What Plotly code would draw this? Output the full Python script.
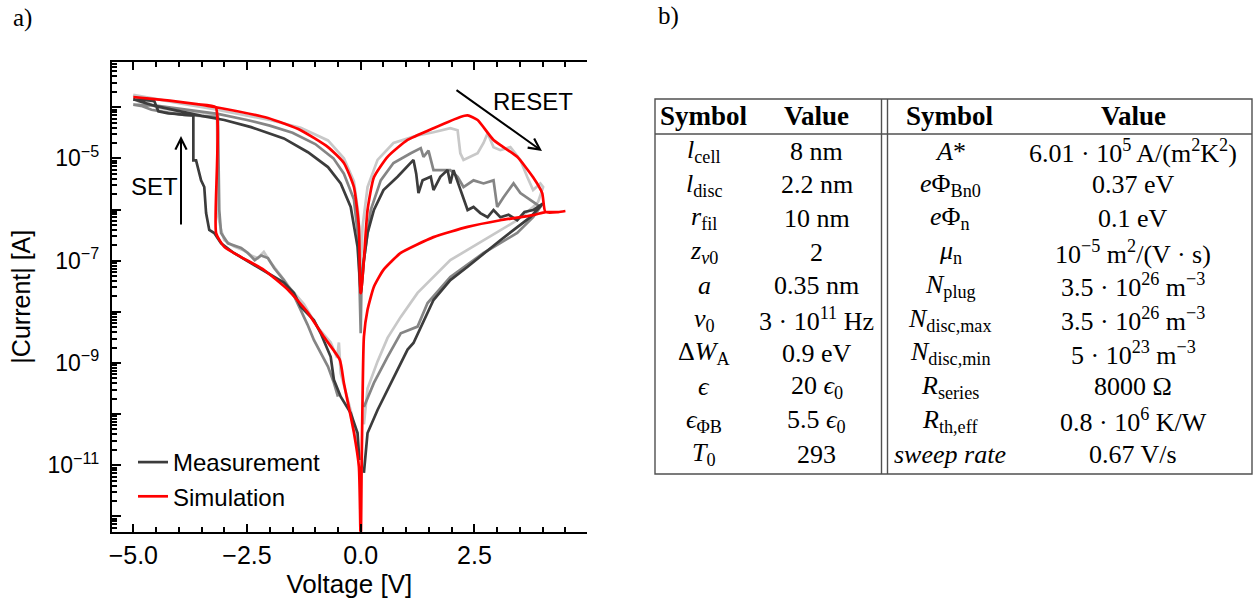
import numpy as np
import plotly.graph_objects as go

W, H = 1257, 601

# ---- a) I-V data: (voltage [V], log10 |current| [A]) in sweep order ----
sim_points = [
    (0.0, -12.6), (-0.04, -11.03), (-0.15, -10.36), (-0.37, -9.39), (-0.46, -8.94), (-0.81, -8.49),
    (-1.16, -8.02), (-1.60, -7.57), (-2.13, -7.18), (-2.63, -6.93), (-3.00, -6.73), (-3.18, -6.46),
    (-3.19, -4.00), (-3.60, -3.94), (-4.20, -3.87), (-5.00, -3.80),
    (-4.20, -3.87), (-3.60, -3.94), (-3.18, -4.00), (-2.04, -4.21), (-1.32, -4.45), (-0.72, -4.78),
    (-0.37, -5.09), (-0.15, -5.56), (-0.04, -6.34), (-0.005, -7.63),
    (0.005, -7.63), (0.07, -6.99), (0.15, -6.01), (0.29, -5.37), (0.59, -4.97), (1.03, -4.64),
    (1.60, -4.41), (2.19, -4.19), (2.35, -4.16), (2.57, -4.25), (2.92, -4.64), (3.44, -4.97),
    (3.79, -5.37), (3.99, -5.68), (4.06, -6.05), (4.34, -6.05), (4.50, -6.03),
    (4.34, -6.05), (4.06, -6.05), (3.79, -6.11), (3.07, -6.21), (2.35, -6.34), (1.60, -6.54),
    (0.88, -6.85), (0.50, -7.18), (0.29, -7.51), (0.15, -7.96), (0.07, -8.49), (0.04, -9.72),
    (0.02, -11.03), (0.0, -12.6),
]

dark_points = [
    (-0.03, -10.9), (-0.07, -10.37), (-0.22, -9.98), (-0.44, -9.66), (-0.59, -9.33), (-0.66, -8.88),
    (-0.88, -8.42), (-1.03, -8.16), (-1.32, -7.90), (-1.47, -7.63), (-1.69, -7.43), (-2.04, -7.24),
    (-2.41, -7.05), (-2.79, -6.85), (-3.07, -6.66), (-3.22, -6.46), (-3.33, -6.40), (-3.40, -6.07),
    (-3.44, -5.56), (-3.51, -5.43), (-3.62, -5.04), (-3.68, -5.04), (-3.68, -4.16),
    (-3.75, -4.16), (-3.88, -4.15), (-4.05, -4.13), (-4.23, -4.12), (-4.45, -4.08), (-4.50, -3.95),
    (-4.54, -3.88), (-4.70, -3.86), (-4.85, -3.85), (-5.00, -3.85),
    (-4.50, -3.98), (-4.00, -4.08), (-3.50, -4.17), (-3.00, -4.25), (-2.41, -4.39), (-1.69, -4.61),
    (-1.16, -4.88), (-0.72, -5.17), (-0.44, -5.49), (-0.22, -5.95), (-0.07, -6.73), (0.0, -7.63),
    (0.02, -7.51), (0.07, -6.99), (0.15, -6.46), (0.29, -6.01), (0.50, -5.62), (0.81, -5.36),
    (1.10, -5.09), (1.16, -5.03), (1.22, -5.30), (1.27, -5.68), (1.36, -5.43), (1.54, -5.36),
    (1.60, -5.62), (1.75, -5.36), (1.91, -5.23), (1.97, -5.49), (2.04, -5.23), (2.19, -5.62),
    (2.35, -6.01), (2.48, -5.95), (2.63, -6.07), (2.79, -6.15), (2.92, -6.01), (3.07, -6.15),
    (3.25, -6.10), (3.44, -6.21), (3.60, -6.05), (3.79, -6.01), (4.01, -5.88),
    (3.73, -6.15), (3.44, -6.34), (3.07, -6.60), (2.35, -7.12), (1.97, -7.38), (1.60, -7.77),
    (1.32, -8.29), (1.16, -8.61), (1.03, -8.74), (0.66, -9.39), (0.37, -9.92), (0.15, -10.37),
    (0.07, -11.15),
]

mid_points = [
    (-0.50, -9.66), (-0.59, -9.39), (-0.72, -9.07), (-0.88, -8.80), (-1.03, -8.55), (-1.17, -8.25),
    (-1.32, -7.96), (-1.46, -7.70), (-1.69, -7.38), (-1.90, -7.15), (-2.04, -6.95), (-2.19, -6.90),
    (-2.33, -6.99), (-2.48, -6.85), (-2.63, -6.75), (-2.92, -6.66), (-3.07, -6.46), (-3.11, -6.01),
    (-3.14, -4.19),
    (-3.40, -4.18), (-3.70, -4.16), (-4.00, -4.14), (-4.30, -4.10), (-4.60, -4.05), (-4.80, -3.98),
    (-5.00, -3.95),
    (-4.50, -3.97), (-4.00, -4.03), (-3.14, -4.13), (-2.50, -4.25), (-2.00, -4.36), (-1.50, -4.50),
    (-1.00, -4.72), (-0.60, -5.00), (-0.37, -5.30), (-0.15, -5.80), (-0.05, -6.60), (0.0, -8.42),
    (0.02, -7.20), (0.07, -6.99), (0.22, -6.01), (0.44, -5.43), (0.72, -5.09), (1.10, -4.90),
    (1.32, -4.80), (1.38, -4.97), (1.49, -4.85), (1.60, -5.23), (1.97, -5.23), (2.13, -5.36),
    (2.26, -5.56), (2.48, -5.43), (2.70, -5.49), (2.92, -5.43), (3.00, -5.95), (3.14, -5.76),
    (3.36, -5.49), (3.51, -5.68), (3.73, -5.81), (3.95, -5.95),
    (3.79, -6.15), (3.44, -6.46), (2.70, -6.85), (1.97, -7.32), (1.47, -7.83), (1.25, -8.29),
    (0.88, -8.42), (0.59, -8.88), (0.29, -9.39), (0.07, -9.86),
]

light_points = [
    (-0.07, -10.7), (-0.20, -10.0), (-0.35, -9.5), (-0.44, -9.2), (-0.48, -8.6), (-0.52, -8.9),
    (-0.66, -8.6), (-0.95, -8.3), (-1.25, -7.85), (-1.54, -7.55), (-1.75, -7.30), (-1.97, -7.05),
    (-2.13, -6.83), (-2.26, -6.95), (-2.41, -6.90), (-2.57, -6.80), (-2.79, -6.72), (-3.00, -6.60),
    (-3.07, -6.40), (-3.14, -6.10), (-3.16, -4.15),
    (-3.50, -4.10), (-4.00, -4.08), (-4.50, -4.00), (-4.80, -3.85), (-5.00, -3.76),
    (-4.00, -3.92), (-3.16, -4.05), (-2.00, -4.25), (-1.32, -4.40), (-0.72, -4.65), (-0.37, -5.00),
    (-0.15, -5.45), (-0.05, -6.10), (0.0, -7.20),
    (0.04, -6.34), (0.15, -5.56), (0.37, -5.03), (0.72, -4.70), (1.25, -4.55), (1.60, -4.49),
    (1.97, -4.41), (2.13, -4.45), (2.19, -4.90), (2.26, -5.03), (2.41, -4.97), (2.57, -4.90),
    (2.70, -4.70), (2.79, -4.51), (2.92, -4.78), (3.07, -4.84), (3.29, -4.78), (3.51, -5.03),
    (3.66, -5.36), (3.79, -5.62), (3.95, -5.49), (4.01, -5.56),
    (3.90, -5.85), (3.79, -5.95), (3.44, -6.21), (2.70, -6.60), (1.97, -6.99), (1.25, -7.63),
    (0.88, -8.10), (0.59, -8.51), (0.37, -8.97), (0.15, -9.50), (0.07, -10.2),
]

x_tick_values = [-5.0, -2.5, 0.0, 2.5]
x_tick_labels = ["\u22125.0", "\u22122.5", "0.0", "2.5"]
y_decades = list(range(-12, -3))
y_labelled = [-11, -9, -7, -5]

# ---- b) parameter table ----
table_header = ["Symbol", "Value", "Symbol", "Value"]
left_symbols = [
    "<i>l</i><sub>cell</sub>", "<i>l</i><sub>disc</sub>", "<i>r</i><sub>fil</sub>",
    "<i>z</i><sub><i>\u03bd</i>0</sub>", "<i>a</i>", "<i>\u03bd</i><sub>0</sub>",
    "\u0394<i>W</i><sub>A</sub>", "<i>\u03f5</i>", "<i>\u03f5</i><sub>\u03a6B</sub>", "<i>T</i><sub>0</sub>",
]
left_values = [
    "8 nm", "2.2 nm", "10 nm", "2", "0.35 nm", "3 \u00b7 10<sup>11</sup> Hz", "0.9 eV",
    "20 <i>\u03f5</i><sub>0</sub>", "5.5 <i>\u03f5</i><sub>0</sub>", "293",
]
right_symbols = [
    "<i>A</i>*", "<i>e</i>\u03a6<sub>Bn0</sub>", "<i>e</i>\u03a6<sub>n</sub>", "<i>\u03bc</i><sub>n</sub>",
    "<i>N</i><sub>plug</sub>", "<i>N</i><sub>disc,max</sub>", "<i>N</i><sub>disc,min</sub>",
    "<i>R</i><sub>series</sub>", "<i>R</i><sub>th,eff</sub>", "<i>sweep rate</i>",
]
right_values = [
    "6.01 \u00b7 10<sup>5</sup> A/(m<sup>2</sup>K<sup>2</sup>)", "0.37 eV", "0.1 eV",
    "10<sup>\u22125</sup> m<sup>2</sup>/(V \u00b7 s)", "3.5 \u00b7 10<sup>26</sup> m<sup>\u22123</sup>",
    "3.5 \u00b7 10<sup>26</sup> m<sup>\u22123</sup>", "5 \u00b7 10<sup>23</sup> m<sup>\u22123</sup>",
    "8000 \u03a9", "0.8 \u00b7 10<sup>6</sup> K/W", "0.67 V/s",
]


def px(xp):
    return xp / W


def py(yp):
    return 1 - yp / H


SANS = "Liberation Sans, Arial, sans-serif"
SERIF = "Liberation Serif, Times New Roman, serif"

fig = go.Figure()

curves = [
    (light_points, "#c8c8c8", None),
    (mid_points, "#858585", None),
    (dark_points, "#3c3c3c", "Measurement"),
]
for pts, color, name in curves:
    v = [p[0] for p in pts]
    i = [10 ** p[1] for p in pts]
    fig.add_trace(go.Scatter(
        x=v, y=i, mode="lines", line=dict(color=color, width=2.7),
        name=name or "", showlegend=name is not None, hoverinfo="skip",
    ))

fig.add_trace(go.Scatter(
    x=[p[0] for p in sim_points], y=[10 ** p[1] for p in sim_points], mode="lines",
    line=dict(color="#ff0000", width=2.7, shape="spline", smoothing=0.5),
    name="Simulation", hoverinfo="skip",
))

x0_px, x1_px, y0_px, y1_px = 111.7, 587.0, 61.7, 531.7

fig.update_xaxes(
    domain=[px(x0_px), px(x1_px)], range=[-5.475, 4.975],
    tickmode="array", tickvals=x_tick_values, ticktext=x_tick_labels,
    ticks="inside", ticklen=8, tickwidth=2, tickcolor="black",
    showline=True, linecolor="black", linewidth=2, mirror="ticks",
    showgrid=False, zeroline=False,
    minor=dict(dtick=0.5, tick0=0, ticks="inside", ticklen=5, tickwidth=1.5, tickcolor="black", showgrid=False),
    tickfont=dict(family=SANS, size=25, color="black"),
    title=dict(text="Voltage [V]", font=dict(family=SANS, size=26, color="black"), standoff=0),
    automargin=False,
)
fig.update_yaxes(
    type="log", domain=[py(y1_px), py(y0_px)], range=[-12.30, -3.11],
    tickmode="array", tickvals=[10.0 ** d for d in y_decades],
    ticktext=[("10<sup>\u2212%d</sup>" % -d) if d in y_labelled else "" for d in y_decades],
    ticks="inside", ticklen=9, tickwidth=2, tickcolor="black",
    showline=True, linecolor="black", linewidth=2, mirror=False,
    showgrid=False, zeroline=False,
    minor=dict(dtick="D1", ticks="inside", ticklen=5, tickwidth=1.5, tickcolor="black", showgrid=False),
    tickfont=dict(family=SANS, size=23, color="black"), ticklabelstandoff=6,
    title=dict(text="|Current| [A]", font=dict(family=SANS, size=25, color="black"), standoff=10),
    automargin=False,
)

annotations = [
    dict(x=px(22), y=py(18), text="a)", font=dict(family=SERIF, size=25)),
    dict(x=px(668), y=py(16), text="b)", font=dict(family=SERIF, size=25)),
    dict(x=px(154), y=py(187), text="SET", font=dict(family=SANS, size=24)),
    dict(x=px(533), y=py(102), text="RESET", font=dict(family=SANS, size=24)),
    # SET arrow (upwards) and RESET arrow (down-right)
    dict(x=px(181), y=py(136), ax=0, ay=90, text="", showarrow=True,
         arrowhead=5, arrowsize=1.1, arrowwidth=2, arrowcolor="black"),
    dict(x=px(542), y=py(151), ax=-87, ay=-62, text="", showarrow=True,
         arrowhead=5, arrowsize=1.1, arrowwidth=2, arrowcolor="black"),
]

# table geometry
tbl_left, tbl_right, tbl_top, tbl_head, tbl_bottom = 655, 1252, 99, 134, 474
col_centers = [704, 817, 950, 1133]
header_y = 116
row_y0, row_pitch = 151, 33.7

for c, t in zip(col_centers, table_header):
    annotations.append(dict(x=px(c), y=py(header_y), text="<b>%s</b>" % t,
                            font=dict(family=SERIF, size=27)))
for r in range(len(left_symbols)):
    yy = py(row_y0 + r * row_pitch)
    for c, t in zip(col_centers, [left_symbols[r], left_values[r], right_symbols[r], right_values[r]]):
        annotations.append(dict(x=px(c), y=yy, text=t, font=dict(family=SERIF, size=26)))

for a in annotations:
    a.setdefault("showarrow", False)
    a.setdefault("xref", "paper")
    a.setdefault("yref", "paper")
    a.setdefault("xanchor", "center")
    a.setdefault("yanchor", "middle")
    a["font"] = dict(color="black", **a.get("font", {}))

line_style = dict(color="#505050", width=1.4)
shapes = [
    dict(type="rect", x0=px(tbl_left), x1=px(tbl_right), y0=py(tbl_bottom), y1=py(tbl_top), line=line_style),
    dict(type="line", x0=px(tbl_left), x1=px(tbl_right), y0=py(tbl_head), y1=py(tbl_head), line=line_style),
    dict(type="line", x0=px(881.5), x1=px(881.5), y0=py(tbl_bottom), y1=py(tbl_top), line=line_style),
    dict(type="line", x0=px(887.5), x1=px(887.5), y0=py(tbl_bottom), y1=py(tbl_top), line=line_style),
]
for s in shapes:
    s["xref"] = "paper"
    s["yref"] = "paper"

fig.update_layout(
    width=W, height=H, margin=dict(l=0, r=0, t=0, b=0),
    paper_bgcolor="white", plot_bgcolor="white",
    annotations=annotations, shapes=shapes,
    legend=dict(x=px(133), y=py(440), xanchor="left", yanchor="top",
                font=dict(family=SANS, size=24, color="black"),
                bgcolor="rgba(0,0,0,0)", tracegroupgap=0),
)

fig.write_html("out.html")
